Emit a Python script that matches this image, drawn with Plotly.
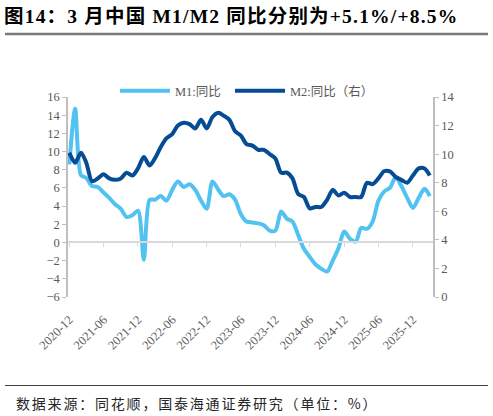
import plotly.graph_objects as go
import pandas as pd

# ---- data ----
months = pd.date_range("2020-12-01", "2026-03-01", freq="MS").strftime("%Y-%m-%d").tolist()

m1_yoy = [8.6, 14.7, 7.4, 7.1, 6.2, 6.1, 5.5, 4.9, 4.2, 3.7, 2.8, 3.0, 3.5,
          -1.9, 4.7, 4.7, 5.1, 4.6, 5.8, 6.7, 6.1, 6.4, 5.8, 4.6, 3.7,
          6.7, 5.8, 5.1, 5.3, 4.7, 3.1, 2.3, 2.2, 2.1, 1.9, 1.3, 1.3,
          3.4, 2.6, 2.3, 0.8, -0.7, -1.6, -2.4, -2.9, -3.2, -2.0, -0.6, 1.2,
          0.4, 0.1, 1.6, 1.5, 2.3, 4.6, 5.6, 6.0, 7.2, 6.2, 4.9, 3.8,
          4.9, 5.9, 5.1]

m2_yoy = [10.1, 9.4, 10.1, 9.4, 8.1, 8.3, 8.6, 8.3, 8.2, 8.3, 8.7, 8.5, 9.0,
          9.8, 9.2, 9.7, 10.5, 11.1, 11.4, 12.0, 12.2, 12.1, 11.8, 12.4, 11.8,
          12.6, 12.9, 12.7, 12.4, 11.6, 11.3, 10.7, 10.6, 10.3, 10.3, 10.0, 9.7,
          8.7, 8.7, 8.3, 7.2, 7.0, 6.2, 6.3, 6.3, 6.8, 7.5, 7.1, 7.3,
          7.0, 7.0, 7.0, 8.0, 7.9, 8.3, 8.8, 8.8, 8.4, 8.2, 8.0, 8.5,
          9.0, 9.0, 8.5]

tick_vals = ["2020-12-01", "2021-06-01", "2021-12-01", "2022-06-01", "2022-12-01",
             "2023-06-01", "2023-12-01", "2024-06-01", "2024-12-01", "2025-06-01",
             "2025-12-01"]
tick_text = ["2020-12", "2021-06", "2021-12", "2022-06", "2022-12", "2023-06",
             "2023-12", "2024-06", "2024-12", "2025-06", "2025-12"]

names = ["M1:同比", "M2:同比（右）"]
title_text = "图14：3 月中国 M1/M2 同比分别为+5.1%/+8.5%"
source_text = "数据来源：同花顺，国泰海通证券研究（单位：%）"

# ---- style ----
C1 = "#52C3F1"
C2 = "#064C94"
AX = "#BFBFBF"
TXT = "#595959"
SERIF = "Liberation Serif, Times New Roman, Noto Sans CJK SC, serif"
XRANGE = ["2020-11-24", "2026-03-18"]

# plot area (px): x 68..433, y 97..297
L, R, T, B = 68, 433, 97, 297
W, H = 493, 416
PW, PH = R - L, B - T


def px(x):
    return (x - L) / PW


def py(y):
    return (B - y) / PH


fig = go.Figure()
fig.add_trace(go.Scatter(x=months, y=m1_yoy, name=names[0], mode="lines",
                         line=dict(color=C1, width=4, shape="spline", smoothing=0.8),
                         xaxis="x", yaxis="y", legend="legend"))
fig.add_trace(go.Scatter(x=months, y=m2_yoy, name=names[1], mode="lines",
                         line=dict(color=C2, width=4, shape="spline", smoothing=0.8),
                         xaxis="x", yaxis="y2", legend="legend2"))
# helper trace so the zero-crossing x axis is rendered
fig.add_trace(go.Scatter(x=months[:1], y=[0], mode="markers", marker=dict(opacity=0),
                         showlegend=False, hoverinfo="skip", xaxis="x2", yaxis="y"))

legend_common = dict(orientation="h", xref="container", yref="container",
                     y=1-76/H, xanchor="left", yanchor="top",
                     font=dict(family=SERIF, size=12.5, color=TXT),
                     itemwidth=50, bgcolor="rgba(0,0,0,0)")

fig.update_layout(
    width=W, height=H,
    margin=dict(l=L, r=W - R, t=T, b=H - B, autoexpand=False),
    paper_bgcolor="white", plot_bgcolor="white",
    showlegend=True,
    title=dict(text=title_text, xref="container", yref="container",
               x=4/W, y=1-16/H, xanchor="left", yanchor="middle",
               font=dict(family=SERIF, size=19.5, color="#000000", weight="bold")),
    legend=dict(x=115/W, **legend_common),
    legend2=dict(x=230/W, **legend_common),
    xaxis=dict(type="date", range=XRANGE, domain=[0, 1], anchor="y",
               tickvals=tick_vals, ticktext=tick_text, tickangle=-45,
               showline=False, ticks="", showgrid=False, zeroline=False,
               ticklabelstandoff=12,
               tickfont=dict(family=SERIF, size=12.5, color=TXT)),
    xaxis2=dict(type="date", range=XRANGE, overlaying="x", anchor="free",
                position=6/22, side="bottom",
                tickvals=tick_vals, showticklabels=False,
                showline=True, linecolor="#D9D9D9", linewidth=1.5,
                ticks="outside", ticklen=4, tickcolor="#D9D9D9", tickwidth=1,
                showgrid=False, zeroline=False),
    yaxis=dict(range=[-6, 16], dtick=2, showline=True, linecolor=AX, linewidth=1.5,
               ticks="outside", ticklen=4, tickcolor=AX, showgrid=False, zeroline=False,
               tickfont=dict(family=SERIF, size=12.5, color=TXT)),
    yaxis2=dict(range=[0, 14], dtick=2, overlaying="y", side="right", anchor="x",
                showline=True, linecolor=AX, linewidth=1.5,
                ticks="outside", ticklen=4, tickcolor=AX, showgrid=False, zeroline=False,
                tickfont=dict(family=SERIF, size=12.5, color=TXT)),
)

# decorative rules under title and above source
fig.add_shape(type="line", xref="paper", yref="paper",
              x0=px(5), x1=px(488), y0=py(34), y1=py(34),
              line=dict(color="#7A7A7A", width=2.3))
fig.add_shape(type="line", xref="paper", yref="paper",
              x0=px(5), x1=px(488), y0=py(385.5), y1=py(385.5),
              line=dict(color="#404040", width=1.2))

fig.add_annotation(text=source_text, xref="paper", yref="paper",
                   x=px(14), y=py(403), xanchor="left", yanchor="middle", align="left",
                   showarrow=False,
                   font=dict(family="Noto Sans CJK SC", size=14, color="#262626"))

# letter spacing as in the original typeset report
post = """
var gd = document.getElementById('{plot_id}');
gd.querySelectorAll('.gtitle').forEach(function(e){ e.style.letterSpacing = '1.2px'; });
gd.querySelectorAll('.annotation-text').forEach(function(e){
  e.style.letterSpacing = '1.8px';
  e.setAttribute('text-anchor', 'start');
});
"""
fig.write_html("out.html", post_script=post)
